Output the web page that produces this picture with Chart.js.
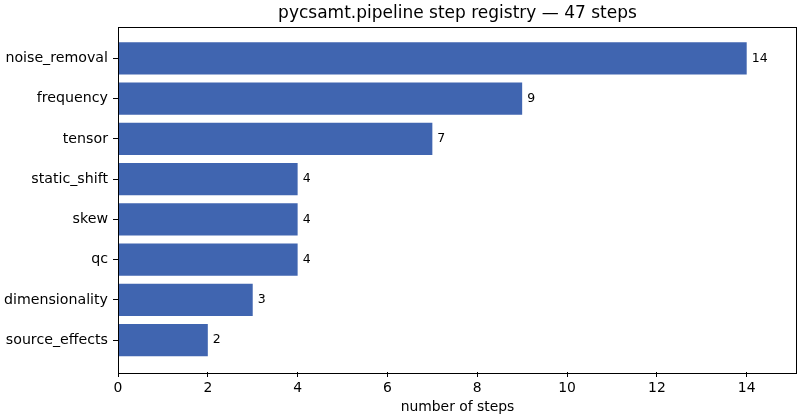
<!DOCTYPE html>
<html>
<head>
<meta charset="utf-8">
<script src="https://cdn.jsdelivr.net/npm/chart.js@4.4.1/dist/chart.umd.min.js"></script>
<style>
  html, body { margin: 0; padding: 0; background: #fff; }
  #wrap { width: 800px; height: 420px; }
</style>
</head>
<body>
<div id="wrap"><canvas id="c" width="800" height="420"></canvas></div>
<script>
// pipeline step registry — steps per module
const categories = ["noise_removal", "frequency", "tensor", "static_shift", "skew", "qc", "dimensionality", "source_effects"];
const counts     = [14, 9, 7, 4, 4, 4, 3, 2];
const xTicks     = [0, 2, 4, 6, 8, 10, 12, 14];
const titleText  = "pycsamt.pipeline step registry — 47 steps";
const xLabel     = "number of steps";

const FONT = "'DejaVu Sans', sans-serif";
const BAR  = "#4065b0";

// box around the plot + title centred over the plot area
const framePlugin = {
  id: "frame",
  afterDraw(chart) {
    const { ctx, chartArea: a } = chart;
    ctx.save();
    ctx.strokeStyle = "#000"; ctx.lineWidth = 1;
    ctx.strokeRect(Math.round(a.left) + 0.5, Math.round(a.top) + 0.5,
                   Math.round(a.right - a.left) - 1, Math.round(a.bottom - a.top));
    ctx.font = "17px " + FONT;
    ctx.fillStyle = "#000";
    ctx.textAlign = "center"; ctx.textBaseline = "alphabetic";
    ctx.fillText(titleText, (a.left + a.right) / 2, 18);
    ctx.restore();
  }
};

// value labels at bar ends
const barLabels = {
  id: "barLabels",
  afterDatasetsDraw(chart) {
    const { ctx } = chart;
    const meta = chart.getDatasetMeta(0);
    ctx.save();
    ctx.font = "12.5px " + FONT;
    ctx.fillStyle = "#000";
    ctx.textAlign = "left"; ctx.textBaseline = "middle";
    meta.data.forEach((bar, i) => ctx.fillText(String(counts[i]), bar.x + 5, bar.y));
    ctx.restore();
  }
};

new Chart(document.getElementById("c"), {
  type: "bar",
  data: {
    datasets: [{
      data: counts.map((v, i) => ({ x: v, y: i })),
      backgroundColor: BAR, borderWidth: 0,
      categoryPercentage: 1.0, barPercentage: 0.8
    }]
  },
  options: {
    indexAxis: "y",
    responsive: false, animation: false,
    layout: { padding: { left: 0, right: 3, top: 26.5, bottom: 0 } },
    plugins: {
      legend: { display: false },
      tooltip: { enabled: false },
      title: { display: false }
    },
    scales: {
      x: {
        type: "linear", position: "bottom", min: 0, max: 15.12,
        afterBuildTicks: s => { s.ticks = xTicks.map(v => ({ value: v })); },
        afterFit: s => { s.height = 48; },
        grid: { display: true, drawOnChartArea: false, drawTicks: true, tickLength: 5, color: "#000" },
        border: { display: false },
        ticks: { color: "#000", padding: 3, font: { family: FONT, size: 13.9 }, maxRotation: 0 },
        title: { display: true, text: xLabel, color: "#000", font: { family: FONT, size: 13.9 }, padding: { top: 0, bottom: 4 } }
      },
      y: {
        type: "linear", position: "left", reverse: true, min: -0.79, max: 7.79,
        offset: false,
        afterBuildTicks: s => { s.ticks = categories.map((c, i) => ({ value: i })); },
        afterFit: s => { s.width = 118; },
        grid: { display: true, offset: false, drawOnChartArea: false, drawTicks: true, tickLength: 5, color: "#000" },
        border: { display: false },
        ticks: { color: "#000", padding: 5, font: { family: FONT, size: 14.2 },
                 callback: v => categories[v] ?? "" }
      }
    }
  },
  plugins: [framePlugin, barLabels]
});
</script>
</body>
</html>
